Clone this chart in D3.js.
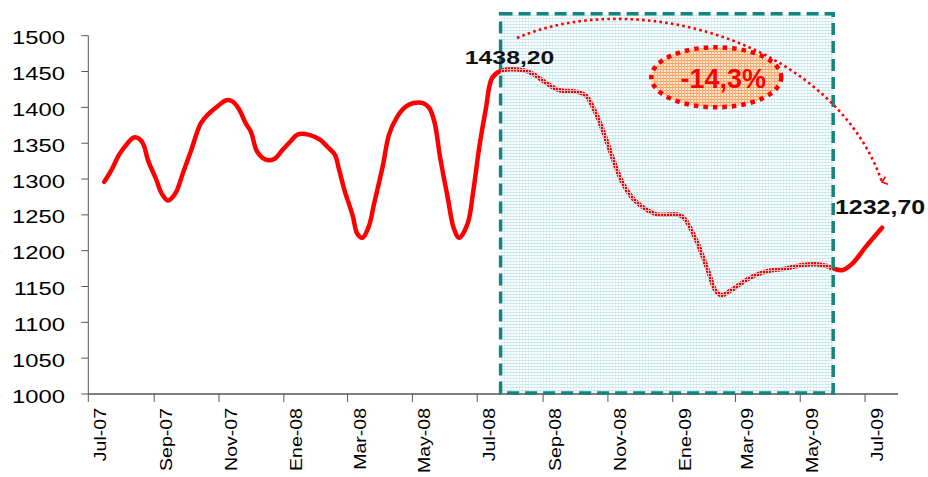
<!DOCTYPE html>
<html>
<head>
<meta charset="utf-8">
<script src="https://cdn.jsdelivr.net/npm/d3@7"></script>
<style>
  html, body { margin: 0; padding: 0; background: #fff; }
  svg { display: block; font-family: Arial, "Liberation Sans", sans-serif; }
</style>
</head>
<body>
<svg id="chart" width="928" height="477"></svg>
<script>
// ---- data ----
const dates = ["2007-07-16","2007-07-23","2007-07-30","2007-08-07","2007-08-13","2007-08-18","2007-08-22","2007-08-26",
"2007-09-03","2007-09-08","2007-09-14","2007-09-21","2007-09-28","2007-10-06","2007-10-15","2007-10-23","2007-10-31",
"2007-11-08","2007-11-14","2007-11-20","2007-11-26","2007-12-01","2007-12-07","2007-12-15","2007-12-23","2007-12-31",
"2008-01-07","2008-01-14","2008-01-24","2008-02-04","2008-02-11","2008-02-18","2008-02-22","2008-02-27","2008-03-06",
"2008-03-10","2008-03-15","2008-03-21","2008-03-26","2008-04-03","2008-04-09","2008-04-16","2008-04-24","2008-05-02",
"2008-05-11","2008-05-17","2008-05-22","2008-05-27","2008-06-03","2008-06-09","2008-06-14","2008-06-22","2008-06-27",
"2008-07-03","2008-07-09","2008-07-15","2008-07-23","2008-08-13","2008-08-22","2008-09-04","2008-09-16","2008-10-02",
"2008-10-11","2008-10-19","2008-10-27","2008-11-05","2008-11-15","2008-11-27","2008-12-16","2009-01-07","2009-01-13",
"2009-01-23","2009-02-04","2009-02-10","2009-02-16","2009-02-25","2009-03-11","2009-03-20","2009-04-02","2009-04-17",
"2009-05-03","2009-05-15","2009-05-25","2009-06-01","2009-06-10","2009-06-19","2009-07-02","2009-07-17"];
const values = [1296,1313,1334,1350,1358,1356,1348,1327,
1299,1280,1270,1280,1308,1341,1378,1392,1402,
1410,1408,1397,1378,1366,1338,1327,1328,1341,
1352,1362,1362,1355,1345,1334,1313,1285,1248,
1224,1218,1234,1266,1317,1362,1385,1400,1406,
1406,1399,1378,1331,1276,1231,1218,1238,1280,
1345,1397,1441,1451,1452,1447,1434,1424,1422,
1417,1397,1369,1331,1294,1269,1251,1250,1243,
1215,1169,1145,1138,1145,1159,1166,1172,1175,
1180,1181,1179,1175,1173,1182,1206,1232];
const yTicks = [1000,1050,1100,1150,1200,1250,1300,1350,1400,1450,1500];
const xTickDates = ["2007-07-01","2007-09-01","2007-11-01","2008-01-01","2008-03-01","2008-05-01","2008-07-01",
"2008-09-01","2008-11-01","2009-01-01","2009-03-01","2009-05-01","2009-07-01"];
const xTickLabels = ["Jul-07","Sep-07","Nov-07","Ene-08","Mar-08","May-08","Jul-08",
"Sep-08","Nov-08","Ene-09","Mar-09","May-09","Jul-09"];
const peakLabel = "1438,20";
const endLabel = "1232,70";
const changeLabel = "-14,3%";
const boxStart = "2008-07-23", boxEnd = "2009-06-01";

// ---- setup ----
const parse = d3.utcParse("%Y-%m-%d");
const svg = d3.select("#chart");
const x = d3.scaleUtc().domain([parse("2007-07-01"), parse("2009-08-01")]).range([88.3, 898]);
const y = d3.scaleLinear().domain([1000, 1500]).range([394, 35.7]);
const data = dates.map((d, i) => ({date: parse(d), value: values[i]}));

const defs = svg.append("defs");
const pBox = defs.append("pattern").attr("id", "boxPat").attr("patternUnits", "userSpaceOnUse")
  .attr("width", 3).attr("height", 3);
pBox.append("rect").attr("x", 0).attr("y", 0).attr("width", 3).attr("height", 1).attr("fill", "#bfe4ea").attr("fill-opacity", 0.8);
pBox.append("rect").attr("x", 0).attr("y", 1).attr("width", 1).attr("height", 2).attr("fill", "#d4eef2").attr("fill-opacity", 0.8);
const pEll = defs.append("pattern").attr("id", "ellPat").attr("patternUnits", "userSpaceOnUse")
  .attr("width", 3).attr("height", 3);
pEll.append("rect").attr("width", 3).attr("height", 3).attr("fill", "#fde2cc");
pEll.append("rect").attr("x", 0).attr("y", 0).attr("width", 3).attr("height", 1).attr("fill", "#f5a060");
pEll.append("rect").attr("x", 0).attr("y", 0).attr("width", 1).attr("height", 3).attr("fill", "#f7b27a");
defs.append("marker").attr("id", "arrow").attr("viewBox", "0 0 10 10").attr("refX", 5).attr("refY", 9)
  .attr("markerWidth", 10).attr("markerHeight", 10).attr("markerUnits", "userSpaceOnUse").attr("orient", "auto-start-reverse")
  .append("path").attr("d", "M1,4 L5,9 L9,4").attr("fill", "none").attr("stroke", "#ff0000").attr("stroke-width", 1.6);

// ---- axes ----
const axisColor = "#555";
svg.append("line").attr("x1", x.range()[0]).attr("x2", x.range()[0]).attr("y1", y(1500)).attr("y2", y(1000))
  .attr("stroke", axisColor).attr("stroke-width", 1);
svg.append("line").attr("x1", x.range()[0]).attr("x2", x.range()[1]).attr("y1", y(1000)).attr("y2", y(1000))
  .attr("stroke", axisColor).attr("stroke-width", 1.3);

const yg = svg.append("g");
yTicks.forEach(t => {
  yg.append("line").attr("x1", x.range()[0] - 7).attr("x2", x.range()[0]).attr("y1", y(t)).attr("y2", y(t))
    .attr("stroke", axisColor);
  yg.append("text").attr("transform", `translate(65,${y(t) + 8.5}) scale(1.36,1)`)
    .attr("text-anchor", "end").attr("font-size", 17.5).attr("fill", "#000").text(t);
});

const xg = svg.append("g");
xTickDates.forEach((d, i) => {
  const px = x(parse(d));
  xg.append("line").attr("x1", px).attr("x2", px).attr("y1", y(1000)).attr("y2", y(1000) + 8).attr("stroke", axisColor);
  xg.append("text").attr("transform", `translate(${px + 18},408) rotate(-90) scale(1.15,1)`)
    .attr("text-anchor", "end").attr("font-size", 17).attr("fill", "#000").text(xTickLabels[i]);
});

// ---- line ----
const line = d3.line().x(d => x(d.date)).y(d => y(d.value)).curve(d3.curveCatmullRom.alpha(0.5));
svg.append("path").datum(data).attr("d", line).attr("fill", "none").attr("stroke", "#ff0000")
  .attr("stroke-width", 4.5).attr("stroke-linejoin", "round").attr("stroke-linecap", "round");

// ---- highlight box ----
const bx0 = x(parse(boxStart)), bx1 = x(parse(boxEnd));
svg.append("rect").attr("x", bx0).attr("y", y(1500) - 22).attr("width", bx1 - bx0).attr("height", y(1000) - 1 - (y(1500) - 22))
  .attr("fill", "url(#boxPat)").attr("stroke", "#13857f").attr("stroke-width", 3.5).attr("stroke-dasharray", "12 6");

// ---- arc arrow ----
const arcPath = d3.path();
arcPath.moveTo(517, 38);
arcPath.bezierCurveTo(640, -15, 835, 45, 882, 182);
svg.append("path").attr("d", arcPath.toString()).attr("fill", "none").attr("stroke", "#ff0000")
  .attr("stroke-width", 2.6).attr("stroke-dasharray", "2.6 3.2").attr("marker-end", "url(#arrow)");

// ---- ellipse ----
const ecx = x(parse("2009-02-11")), ecy = y(1442);
svg.append("ellipse").attr("cx", ecx).attr("cy", ecy).attr("rx", 65).attr("ry", 30)
  .attr("fill", "url(#ellPat)").attr("stroke", "#ff0000").attr("stroke-width", 4.5).attr("stroke-dasharray", "4.5 5");
svg.append("text").attr("x", ecx + 7).attr("y", ecy + 11).attr("text-anchor", "middle")
  .attr("font-size", 27).attr("font-weight", "bold").attr("fill", "#ff0000").text(changeLabel);

// ---- value labels ----
const peakPoint = data.find(d => d.date.getTime() === parse(boxStart).getTime());
svg.append("text").attr("transform", `translate(${x(peakPoint.date) + 9},${y(peakPoint.value) - 7}) scale(1.34,1)`)
  .attr("text-anchor", "middle").attr("font-size", 18.5).attr("font-weight", "bold").attr("fill", "#111").text(peakLabel);
const last = data[data.length - 1];
svg.append("text").attr("transform", `translate(${x(last.date) - 2},${y(last.value) - 14}) scale(1.28,1)`)
  .attr("text-anchor", "middle").attr("font-size", 19.5).attr("font-weight", "bold").attr("fill", "#111").text(endLabel);
</script>
</body>
</html>
